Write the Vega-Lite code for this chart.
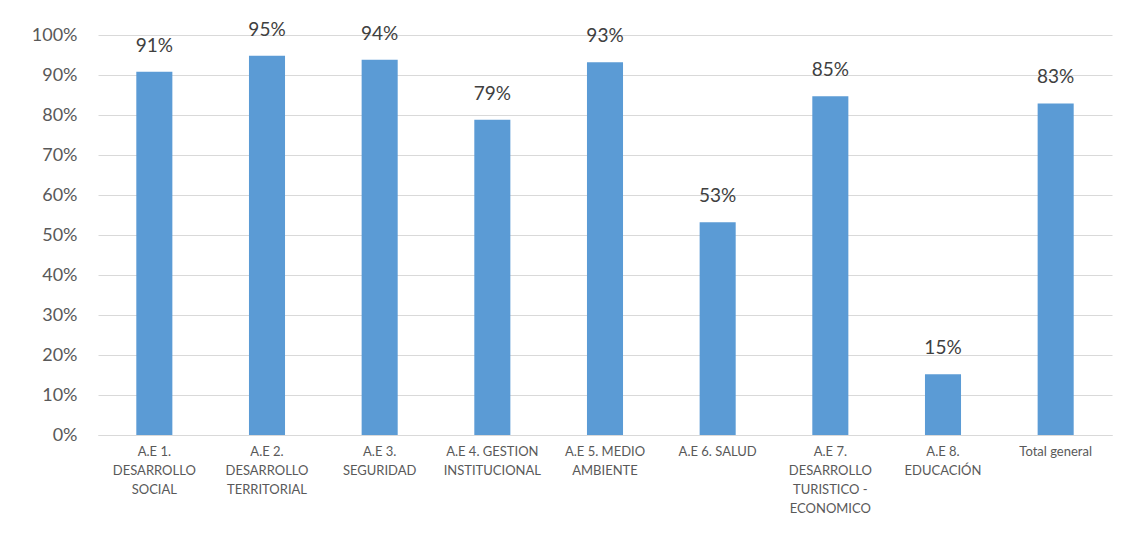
{
  "$schema": "https://vega.github.io/schema/vega-lite/v6.json",
  "autosize": "none",
  "width": 1014,
  "height": 400,
  "padding": {"left": 98, "top": 35, "right": 20, "bottom": 101},
  "background": "white",
  "config": {
    "view": {"stroke": null},
    "font": "Lato"
  },
  "data": {
    "values": [
      {"area": "A.E 1. DESARROLLO SOCIAL", "pct": 0.908},
      {"area": "A.E 2. DESARROLLO TERRITORIAL", "pct": 0.948},
      {"area": "A.E 3. SEGURIDAD", "pct": 0.938},
      {"area": "A.E 4. GESTION INSTITUCIONAL", "pct": 0.788},
      {"area": "A.E 5. MEDIO AMBIENTE", "pct": 0.932},
      {"area": "A.E 6. SALUD", "pct": 0.532},
      {"area": "A.E 7. DESARROLLO TURISTICO - ECONOMICO", "pct": 0.847},
      {"area": "A.E 8. EDUCACIÓN", "pct": 0.152},
      {"area": "Total general", "pct": 0.829}
    ]
  },
  "encoding": {
    "x": {
      "field": "area",
      "type": "nominal",
      "sort": null,
      "scale": {"paddingInner": 0.68, "paddingOuter": 0.34},
      "axis": {
        "title": null,
        "labelAngle": 0,
        "labelFontSize": 13,
        "labelColor": "#595959",
        "labelLineHeight": 19,
        "labelPadding": 10,
        "labelBaseline": "top",
        "labelLimit": 200,
        "ticks": false,
        "domainColor": "#D9D9D9",
        "domainWidth": 1,
        "labelExpr": "{'A.E 1. DESARROLLO SOCIAL': ['A.E 1.', 'DESARROLLO', 'SOCIAL'], 'A.E 2. DESARROLLO TERRITORIAL': ['A.E 2.', 'DESARROLLO', 'TERRITORIAL'], 'A.E 3. SEGURIDAD': ['A.E 3.', 'SEGURIDAD'], 'A.E 4. GESTION INSTITUCIONAL': ['A.E 4. GESTION', 'INSTITUCIONAL'], 'A.E 5. MEDIO AMBIENTE': ['A.E 5. MEDIO', 'AMBIENTE'], 'A.E 6. SALUD': ['A.E 6. SALUD'], 'A.E 7. DESARROLLO TURISTICO - ECONOMICO': ['A.E 7.', 'DESARROLLO', 'TURISTICO -', 'ECONOMICO'], 'A.E 8. EDUCACIÓN': ['A.E 8.', 'EDUCACIÓN'], 'Total general': ['Total general']}[datum.value]"
      }
    },
    "y": {
      "field": "pct",
      "type": "quantitative",
      "scale": {"domain": [0, 1]},
      "axis": {
        "title": null,
        "format": ".0%",
        "values": [0, 0.1, 0.2, 0.3, 0.4, 0.5, 0.6, 0.7, 0.8, 0.9, 1],
        "labelOverlap": false,
        "labelFontSize": 18,
        "labelColor": "#595959",
        "labelPadding": 21,
        "ticks": false,
        "domain": false,
        "gridColor": "#D9D9D9",
        "gridWidth": 1
      }
    }
  },
  "layer": [
    {"mark": {"type": "bar", "color": "#5B9BD5"}},
    {
      "mark": {"type": "text", "baseline": "alphabetic", "dy": -20, "fontSize": 19, "color": "#404040"},
      "encoding": {"text": {"field": "pct", "type": "quantitative", "format": ".0%"}}
    }
  ]
}
